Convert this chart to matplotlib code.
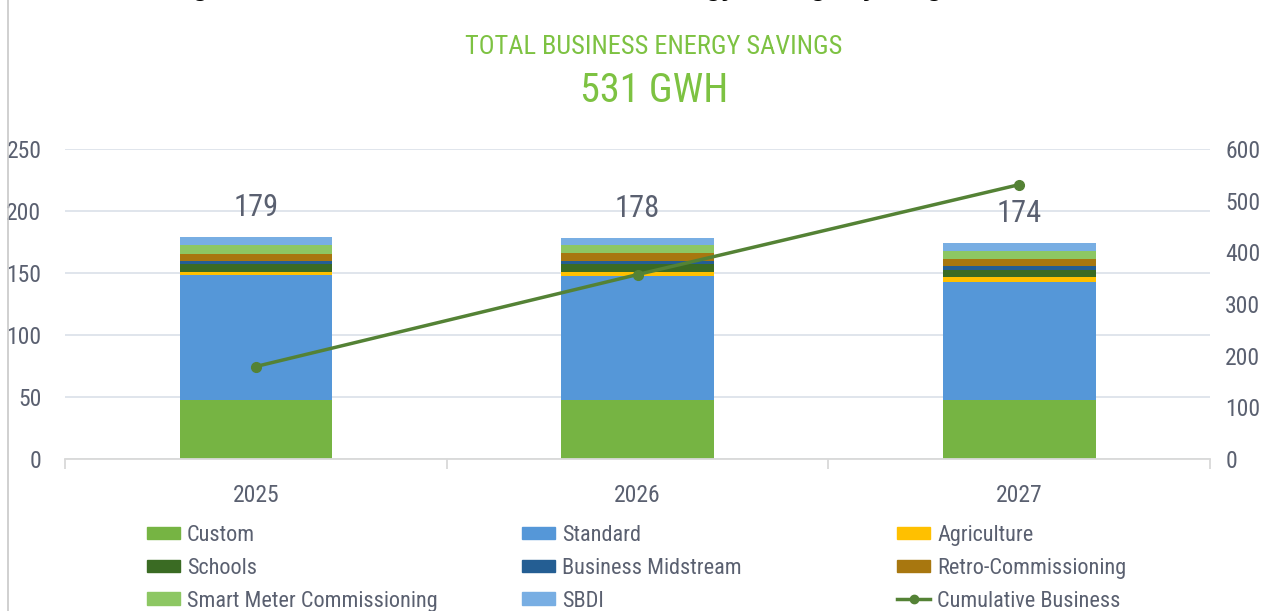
import matplotlib
matplotlib.use("Agg")
import matplotlib.pyplot as plt
from matplotlib import font_manager as fm
import numpy as np
from matplotlib.lines import Line2D
from matplotlib.patches import Patch

# find a narrow/condensed sans if one is installed
narrow = None
for f in fm.fontManager.ttflist:
    stretchy = str(f.stretch) in ("condensed", "semi-condensed", "extra-condensed") or \
        "Narrow" in f.name or "Condensed" in f.name
    if stretchy and f.style == "normal" and f.weight in (400, "normal", "regular"):
        if narrow is None or "Liberation" in f.name or "Roboto" in f.name:
            narrow = f
if narrow is not None:
    plt.rcParams["font.family"] = [narrow.name, "DejaVu Sans"]
    plt.rcParams["font.stretch"] = narrow.stretch
    k = 1.0
else:
    plt.rcParams["font.family"] = ["DejaVu Sans"]
    k = 0.82

# data (GWh)
years = ["2025", "2026", "2027"]
programs = ["Custom", "Standard", "Agriculture", "Schools", "Business Midstream",
            "Retro-Commissioning", "Smart Meter Commissioning", "SBDI"]
custom = [47.5, 47.5, 47.5]
standard = [101.0, 100.0, 95.5]
agriculture = [2.5, 3.5, 4.0]
schools = [6.5, 6.0, 5.5]
midstream = [2.5, 2.5, 3.0]
retro = [5.5, 6.5, 6.0]
smart_meter = [7.0, 6.5, 6.5]
sbdi = [6.5, 5.5, 6.0]
totals = [179, 178, 174]
cumulative = [179, 357, 531]

colors = ["#76B443", "#5597D8", "#FFC000", "#3A6B23", "#245E93",
          "#A8770F", "#8DC763", "#78AEE3"]
line_color = "#548235"
text_color = "#5A6070"
grid_color = "#DDE3EA"

series = [custom, standard, agriculture, schools, midstream, retro, smart_meter, sbdi]

fig = plt.figure(figsize=(12.79, 6.11), dpi=100)
ax = fig.add_axes([65 / 1279, 1 - 459 / 611, (1210 - 65) / 1279, 310 / 611])

x = np.arange(len(years))
bottom = np.zeros(len(years))
for name, vals, c in zip(programs, series, colors):
    ax.bar(x, vals, width=0.4, bottom=bottom, color=c, label=name, zorder=2)
    bottom += np.array(vals)

for xi, tot in zip(x, totals):
    ax.annotate(str(tot), (xi, tot), xytext=(0, 30), textcoords="offset pixels",
                ha="center", va="center", fontsize=22 * k, color=text_color)

ax.set_xlim(-0.5, 2.5)
ax.set_ylim(0, 250)
ax.set_yticks(range(0, 251, 50))
ax.yaxis.grid(True, color=grid_color, lw=1.3, zorder=0)
ax.set_axisbelow(True)
for s in ["top", "right", "left"]:
    ax.spines[s].set_visible(False)
ax.spines["bottom"].set_color("#D9D9D9")
ax.spines["bottom"].set_linewidth(1.3)
ax.set_xticks(x)
ax.set_xticklabels(years)
ax.set_xticks([-0.5, 0.5, 1.5, 2.5], minor=True)
ax.tick_params(axis="x", which="major", length=0, pad=18, labelsize=17 * k, labelcolor=text_color)
ax.tick_params(axis="x", which="minor", length=7, width=1.3, color="#D9D9D9")
ax.tick_params(axis="y", length=0, pad=17, labelsize=17 * k, labelcolor=text_color)

ax2 = ax.twinx()
ax2.plot(x, cumulative, color=line_color, lw=2.5, marker="o", ms=7, zorder=5)
ax2.set_ylim(0, 600)
ax2.set_yticks(range(0, 601, 100))
for s in ax2.spines.values():
    s.set_visible(False)
ax2.tick_params(axis="y", length=0, pad=11, labelsize=17 * k, labelcolor=text_color)

fig.text(654 / 1279, 1 - 47 / 611, "TOTAL BUSINESS ENERGY SAVINGS", ha="center", va="center",
         fontsize=19 * k, color="#7DC242")
fig.text(654 / 1279, 1 - 91 / 611, "531 GWH", ha="center", va="center",
         fontsize=29 * k, color="#7DC242")

# page title above the crop: only its descenders show at the top edge
fig.text(170 / 1279, 1 + 4 / 611, "Figure 7: Annual Incremental Business Energy Savings by Program",
         ha="left", va="baseline", fontsize=18.4, fontweight="bold", color="black",
         family=["Liberation Sans", "DejaVu Sans"], fontstretch="normal")

# left border line
fig.add_artist(Line2D([8 / 1279, 8 / 1279], [0, 1], color="#C8C8C8", lw=1.2))

# legend laid out in three columns like the original
handles = [Patch(color=c) for c in colors]
line_handle = Line2D([], [], color=line_color, lw=2.5, marker="o", ms=6)
cols = [
    ([handles[0], handles[3], handles[6]], [programs[0], programs[3], programs[6]], 147),
    ([handles[1], handles[4], handles[7]], [programs[1], programs[4], programs[7]], 522),
    ([handles[2], handles[5], line_handle], [programs[2], programs[5], "Cumulative Business"], 897),
]
fs_leg = 16 * k
for hs, ls, xpx in cols:
    fig.legend(hs, ls, loc="upper left", bbox_to_anchor=(xpx / 1279, 1 - 525 / 611),
               frameon=False, fontsize=fs_leg, labelcolor=text_color, handlelength=1.5 / k,
               handleheight=0.5, handletextpad=0.3 / k, labelspacing=0.53 / k,
               borderpad=0, borderaxespad=0)

fig.savefig("out.png", dpi=100)
